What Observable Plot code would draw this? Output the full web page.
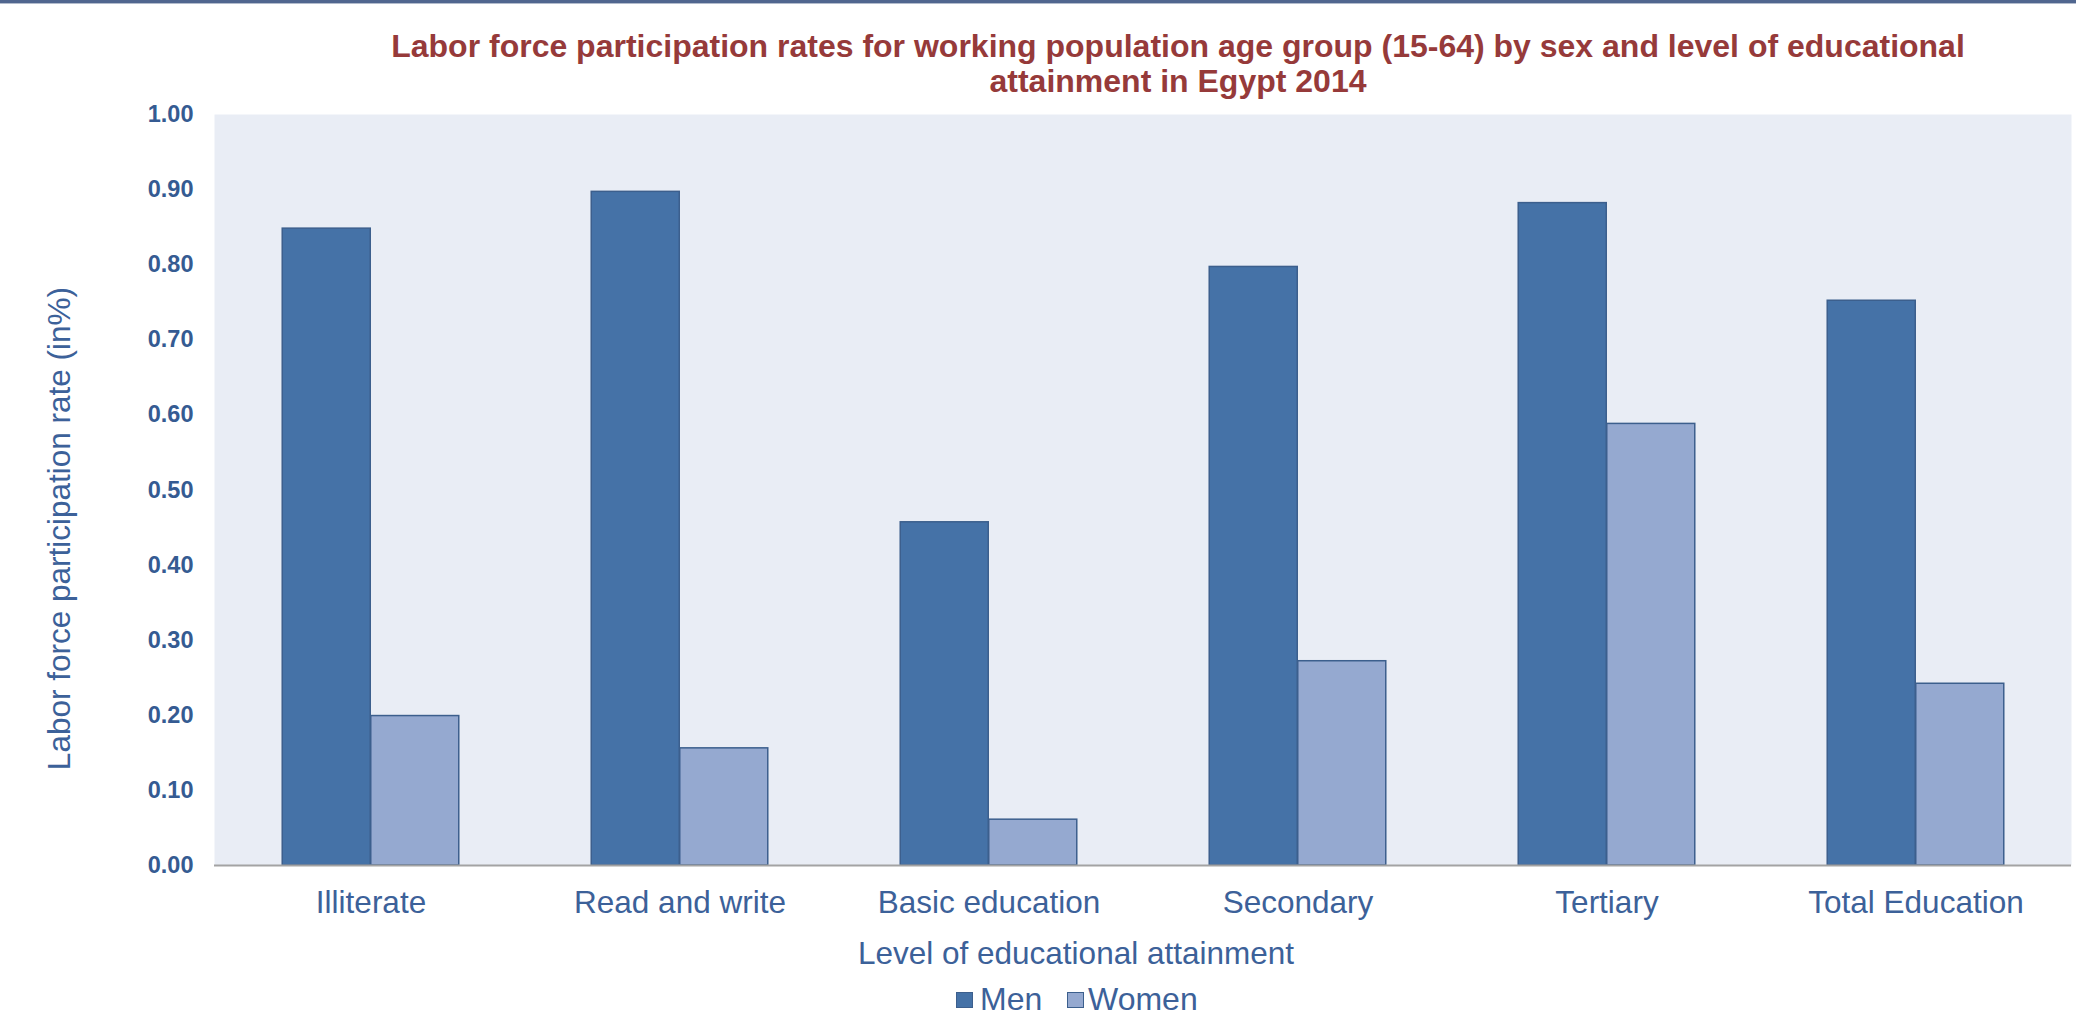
<!DOCTYPE html>
<html>
<head>
<meta charset="utf-8">
<script src="https://cdn.jsdelivr.net/npm/d3@7"></script>
<script src="https://cdn.jsdelivr.net/npm/@observablehq/plot@0.6"></script>
<style>
  html, body { margin: 0; padding: 0; background: #ffffff; overflow: hidden; }
  #page { position: relative; width: 2076px; height: 1017px; font-family: "Liberation Sans", Arial, sans-serif; }
  #topline { position: absolute; left: 0; top: 0; width: 2076px; height: 3px; background: #50668f; border-bottom: 1px solid #b3bccd; z-index: 2; }
  #header { position: relative; height: 80px; }
  #title { position: absolute; left: 0; top: 29px; width: 2076px; box-sizing: border-box; padding-left: 280px;
           text-align: center; font-weight: bold; font-size: 32px; line-height: 35px; color: #963a3a; z-index: 2; }
  #chart svg { display: block; }
  #legend { position: relative; height: 42px; }
  .sw { position: absolute; width: 17px; height: 16px; top: 17px; box-sizing: border-box; border: 1.5px solid #3c5f8d; }
  .lt { position: absolute; top: 8px; font-size: 32px; line-height: 32px; color: #3c6199; }
</style>
</head>
<body>
<div id="page">
  <div id="topline"></div>
  <div id="header"><div id="title"></div></div>
  <div id="chart"></div>
  <div id="legend"></div>
</div>
<script>
const titleLines = [
  "Labor force participation rates for working population age group (15-64) by sex and level of educational",
  "attainment in Egypt 2014"
];
const categories = ["Illiterate", "Read and write", "Basic education", "Secondary", "Tertiary", "Total Education"];
const series = ["Men", "Women"];
const menValues = [0.848, 0.897, 0.457, 0.797, 0.882, 0.752];
const womenValues = [0.199, 0.156, 0.061, 0.272, 0.588, 0.242];
const yTicks = [0, 0.1, 0.2, 0.3, 0.4, 0.5, 0.6, 0.7, 0.8, 0.9, 1.0];
const yLabel = "Labor force participation rate (in%)";
const xLabel = "Level of educational attainment";
const colors = {Men: "#4572a7", Women: "#95a9d0"};

document.getElementById("title").innerHTML = titleLines.join("<br>");

const data = [];
categories.forEach((c, i) => {
  data.push({category: c, sex: "Men", value: menValues[i]});
  data.push({category: c, sex: "Women", value: womenValues[i]});
});

const W = 2076, H = 895;
const mL = 214, mR = 5, mT = 34, mB = 110;
const step = (W - mL - mR) / categories.length;
const outer = step * 0.214;
const half = step / 2;
const textColor = "#3c6199";
const tickColor = "#355b92";
const strokeColor = "#3c5f8d";

const chart = Plot.plot({
  width: W,
  height: H,
  marginLeft: mL,
  marginRight: mR,
  marginTop: mT,
  marginBottom: mB,
  style: {fontFamily: "'Liberation Sans', Arial, sans-serif", background: "transparent", overflow: "visible"},
  x: {domain: categories, padding: 0},
  y: {domain: [0, 1]},
  marks: [
    Plot.frame({fill: "#e9edf5", stroke: null}),
    Plot.barY(data.filter(d => d.sex === "Men"), {
      x: "category", y: "value", fill: colors.Men, stroke: strokeColor, strokeWidth: 1.5,
      insetLeft: outer, insetRight: half
    }),
    Plot.barY(data.filter(d => d.sex === "Women"), {
      x: "category", y: "value", fill: colors.Women, stroke: strokeColor, strokeWidth: 1.5,
      insetLeft: half, insetRight: outer
    }),
    Plot.ruleY([0], {stroke: "#a3a3a3", strokeWidth: 2}),
    Plot.axisY(yTicks, {
      tickFormat: d3.format(".2f"), tickSize: 0, tickPadding: 21, fontSize: 23.5, fontWeight: "bold",
      fill: tickColor, stroke: "#a3a3a3", strokeWidth: 2, line: true, label: null
    }),
    Plot.axisX({tickSize: 0, tickPadding: 25, fontSize: 31.5, fill: textColor, label: null}),
    Plot.text([xLabel], {text: d => d, frameAnchor: "bottom", lineAnchor: "bottom", dy: 98, dx: -67,
      fontSize: 31.5, fill: textColor}),
    Plot.text([yLabel], {text: d => d, frameAnchor: "left", textAnchor: "middle", rotate: -90, dx: -155, dy: 38.5,
      fontSize: 31.5, fill: textColor})
  ]
});
document.getElementById("chart").appendChild(chart);

// legend
const legend = document.getElementById("legend");
const legendPos = {Men: {sw: 956, tx: 980}, Women: {sw: 1067, tx: 1088}};
series.forEach(s => {
  const sw = document.createElement("div");
  sw.className = "sw";
  sw.style.left = legendPos[s].sw + "px";
  sw.style.background = colors[s];
  legend.appendChild(sw);
  const t = document.createElement("div");
  t.className = "lt";
  t.style.left = legendPos[s].tx + "px";
  t.textContent = s;
  legend.appendChild(t);
});
</script>
</body>
</html>
